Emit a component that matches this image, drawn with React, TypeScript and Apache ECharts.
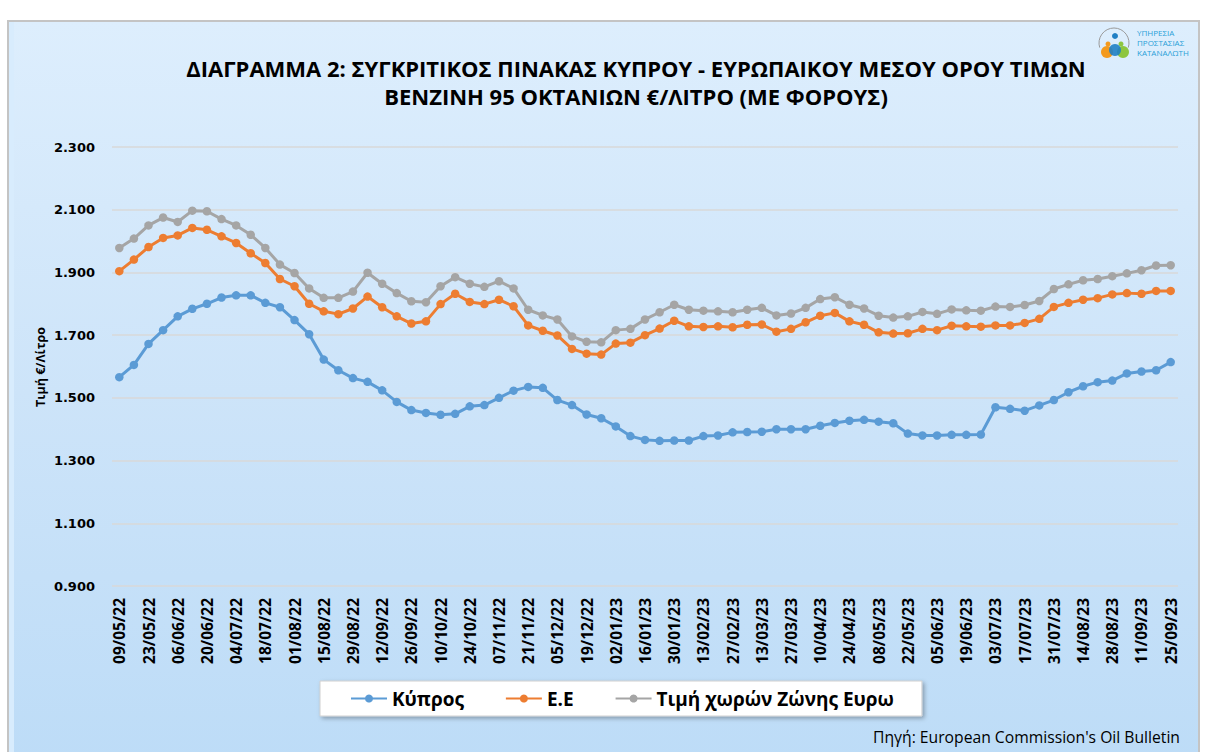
import React, { useEffect, useRef } from "react";
import * as echarts from "echarts";

const dates = [
  "09/05/22","16/05/22","23/05/22","30/05/22","06/06/22","13/06/22","20/06/22","27/06/22",
  "04/07/22","11/07/22","18/07/22","25/07/22","01/08/22","08/08/22","15/08/22","22/08/22",
  "29/08/22","05/09/22","12/09/22","19/09/22","26/09/22","03/10/22","10/10/22","17/10/22",
  "24/10/22","31/10/22","07/11/22","14/11/22","21/11/22","28/11/22","05/12/22","12/12/22",
  "19/12/22","26/12/22","02/01/23","09/01/23","16/01/23","23/01/23","30/01/23","06/02/23",
  "13/02/23","20/02/23","27/02/23","06/03/23","13/03/23","20/03/23","27/03/23","03/04/23",
  "10/04/23","17/04/23","24/04/23","01/05/23","08/05/23","15/05/23","22/05/23","29/05/23",
  "05/06/23","12/06/23","19/06/23","26/06/23","03/07/23","10/07/23","17/07/23","24/07/23",
  "31/07/23","07/08/23","14/08/23","21/08/23","28/08/23","04/09/23","11/09/23","18/09/23",
  "25/09/23",
];

const cyprus = [
  1.566, 1.605, 1.672, 1.716, 1.760, 1.784, 1.800, 1.820, 1.827, 1.827, 1.803, 1.789,
  1.748, 1.703, 1.622, 1.588, 1.563, 1.551, 1.524, 1.487, 1.461, 1.452, 1.446, 1.449,
  1.473, 1.477, 1.500, 1.523, 1.535, 1.532, 1.493, 1.477, 1.447, 1.435, 1.409, 1.378,
  1.366, 1.363, 1.364, 1.364, 1.378, 1.380, 1.390, 1.391, 1.392, 1.400, 1.400, 1.400,
  1.411, 1.420, 1.427, 1.430, 1.424, 1.419, 1.386, 1.380, 1.380, 1.382, 1.382, 1.383,
  1.470, 1.465, 1.459, 1.476, 1.493, 1.518, 1.537, 1.550, 1.555, 1.578, 1.584, 1.588,
  1.614,
];

const eu = [
  1.904, 1.941, 1.981, 2.010, 2.018, 2.042, 2.036, 2.015, 1.994, 1.961, 1.930, 1.879,
  1.856, 1.800, 1.776, 1.767, 1.785, 1.823, 1.789, 1.760, 1.737, 1.744, 1.799, 1.832,
  1.806, 1.799, 1.813, 1.792, 1.731, 1.714, 1.699, 1.656, 1.641, 1.638, 1.673, 1.676,
  1.700, 1.721, 1.746, 1.728, 1.726, 1.728, 1.725, 1.733, 1.734, 1.711, 1.720, 1.741,
  1.762, 1.771, 1.744, 1.733, 1.709, 1.705, 1.706, 1.720, 1.716, 1.730, 1.728, 1.727,
  1.731, 1.731, 1.739, 1.752, 1.790, 1.803, 1.813, 1.818, 1.830, 1.834, 1.832, 1.841,
  1.841,
];

const euroZone = [
  1.978, 2.008, 2.050, 2.075, 2.061, 2.097, 2.095, 2.070, 2.050, 2.020, 1.978, 1.925,
  1.898, 1.849, 1.819, 1.819, 1.839, 1.899, 1.864, 1.834, 1.808, 1.805, 1.856, 1.885,
  1.864, 1.854, 1.872, 1.849, 1.781, 1.763, 1.750, 1.696, 1.679, 1.677, 1.716, 1.720,
  1.750, 1.773, 1.797, 1.781, 1.778, 1.776, 1.773, 1.781, 1.787, 1.763, 1.769, 1.787,
  1.815, 1.821, 1.797, 1.785, 1.762, 1.756, 1.760, 1.774, 1.768, 1.782, 1.779, 1.778,
  1.791, 1.790, 1.796, 1.809, 1.847, 1.862, 1.875, 1.879, 1.888, 1.897, 1.907, 1.922,
  1.923,
];

const seriesNames = ["Κύπρος", "Ε.Ε", "Τιμή χωρών Ζώνης Ευρω"];
const seriesColors = ["#5b9bd5", "#ed7d31", "#a5a5a5"];

const titleLines = [
  "ΔΙΑΓΡΑΜΜΑ 2: ΣΥΓΚΡΙΤΙΚΟΣ ΠΙΝΑΚΑΣ ΚΥΠΡΟΥ - ΕΥΡΩΠΑΙΚΟΥ ΜΕΣΟΥ ΟΡΟΥ ΤΙΜΩΝ",
  "ΒΕΝΖΙΝΗ 95 ΟΚΤΑΝΙΩΝ €/ΛΙΤΡΟ (ΜΕ ΦΟΡΟΥΣ)",
];
const yAxisTitle = "Τιμή €/Λίτρο";
const sourceText = "Πηγή: European Commission's Oil Bulletin";
const logoLines = ["ΥΠΗΡΕΣΙΑ", "ΠΡΟΣΤΑΣΙΑΣ", "ΚΑΤΑΝΑΛΩΤΗ"];

const FONT = "'Open Sans', sans-serif";

export default function App() {
  const ref = useRef<HTMLDivElement>(null);

  useEffect(() => {
    if (!ref.current) return;
    const chart = echarts.init(ref.current, null, { renderer: "svg" });
    const values = [cyprus, eu, euroZone];

    chart.setOption({
      animation: false,
      backgroundColor: "#ffffff",
      graphic: [
        {
          type: "rect",
          z: -10,
          shape: { x: 7, y: 20, width: 1193, height: 740 },
          style: { fill: "#c4c4c4" },
          silent: true,
        },
        {
          type: "rect",
          z: -9,
          shape: { x: 9, y: 22, width: 1189, height: 740 },
          style: {
            fill: new echarts.graphic.LinearGradient(0, 0, 0, 1, [
              { offset: 0, color: "#ddeefd" },
              { offset: 0.5, color: "#cde4f9" },
              { offset: 1, color: "#bddcf7" },
            ]),
          },
          silent: true,
        },
        {
          type: "rect",
          z: -8,
          shape: { x: 9, y: 22, width: 5, height: 740 },
          style: { fill: "#d8ecfd" },
          silent: true,
        },
        {
          type: "text",
          x: 636,
          y: 68,
          style: {
            text: titleLines[0],
            fill: "#000",
            font: `bold 22px ${FONT}`,
            textAlign: "center",
            textVerticalAlign: "middle",
          },
        },
        {
          type: "text",
          x: 636,
          y: 96,
          style: {
            text: titleLines[1],
            fill: "#000",
            font: `bold 22px ${FONT}`,
            textAlign: "center",
            textVerticalAlign: "middle",
          },
        },
        {
          type: "text",
          x: 40,
          y: 367,
          rotation: Math.PI / 2,
          style: {
            text: yAxisTitle,
            fill: "#000",
            font: `bold 12.5px ${FONT}`,
            textAlign: "center",
            textVerticalAlign: "middle",
          },
        },
        {
          type: "text",
          x: 1180,
          y: 737,
          style: {
            text: sourceText,
            fill: "#000",
            font: `15.7px ${FONT}`,
            textAlign: "right",
            textVerticalAlign: "middle",
          },
        },
        // logo
        {
          type: "arc",
          shape: { cx: 1114, cy: 43, r: 15, startAngle: Math.PI * 0.9, endAngle: Math.PI * 2.1, clockwise: true },
          style: { stroke: "#9a9a9a", lineWidth: 1, fill: "none" },
        },
        { type: "circle", shape: { cx: 1115, cy: 36, r: 3 }, style: { fill: "#1f7fc4" } },
        { type: "circle", shape: { cx: 1108, cy: 44, r: 2.5 }, style: { fill: "#f39a1e" } },
        { type: "circle", shape: { cx: 1121, cy: 44, r: 2.5 }, style: { fill: "#8dc63f" } },
        { type: "circle", shape: { cx: 1107, cy: 52, r: 6 }, style: { fill: "#f39a1e" } },
        { type: "circle", shape: { cx: 1123, cy: 52, r: 6 }, style: { fill: "#8dc63f" } },
        { type: "circle", shape: { cx: 1115, cy: 50, r: 6 }, style: { fill: "#1f7fc4", opacity: 0.9 } },
        ...logoLines.map((t, i) => ({
          type: "text",
          x: 1137,
          y: 32 + i * 10,
          style: {
            text: t,
            fill: "#2a9fd8",
            font: `8px ${FONT}`,
            lineHeight: 9,
            textAlign: "left",
            textVerticalAlign: "middle",
          },
        })),
      ],
      legend: {
        data: seriesNames,
        left: 320,
        top: 681,
        backgroundColor: "#ffffff",
        borderColor: "#d0d0d0",
        borderWidth: 1,
        shadowBlur: 4,
        shadowColor: "rgba(0,0,0,0.3)",
        shadowOffsetX: 2,
        shadowOffsetY: 2,
        padding: [8, 28, 8, 30],
        itemGap: 41,
        itemWidth: 36,
        itemHeight: 10,
        textStyle: { fontFamily: FONT, fontWeight: "bold", fontSize: 19, color: "#000" },
      },
      grid: { left: 112, right: 29, top: 147, bottom: 166, containLabel: false },
      xAxis: {
        type: "category",
        data: dates,
        boundaryGap: true,
        axisLine: { show: false },
        axisTick: { show: false },
        axisLabel: {
          interval: 1,
          rotate: 90,
          margin: 12,
          color: "#000",
          fontFamily: FONT,
          fontWeight: "bold",
          fontSize: 15.5,
        },
        splitLine: { show: false },
      },
      yAxis: {
        type: "value",
        min: 0.9,
        max: 2.3,
        interval: 0.2,
        axisLine: { show: false },
        axisTick: { show: false },
        axisLabel: {
          formatter: (v: number) => v.toFixed(3),
          margin: 17,
          color: "#000",
          fontFamily: "'DejaVu Sans', sans-serif",
          fontWeight: "bold",
          fontSize: 13,
        },
        splitLine: { lineStyle: { color: "#d9d9d9", width: 1.5 } },
      },
      series: seriesNames.map((name, i) => ({
        name,
        type: "line",
        data: values[i],
        symbol: "circle",
        symbolSize: 8.5,
        color: seriesColors[i],
        lineStyle: { width: 3, color: seriesColors[i] },
        itemStyle: { color: seriesColors[i] },
      })),
    });

    return () => chart.dispose();
  }, []);

  return (
    <div
      ref={ref}
      style={{ position: "absolute", left: 0, top: 0, width: 1207, height: 752 }}
    />
  );
}
